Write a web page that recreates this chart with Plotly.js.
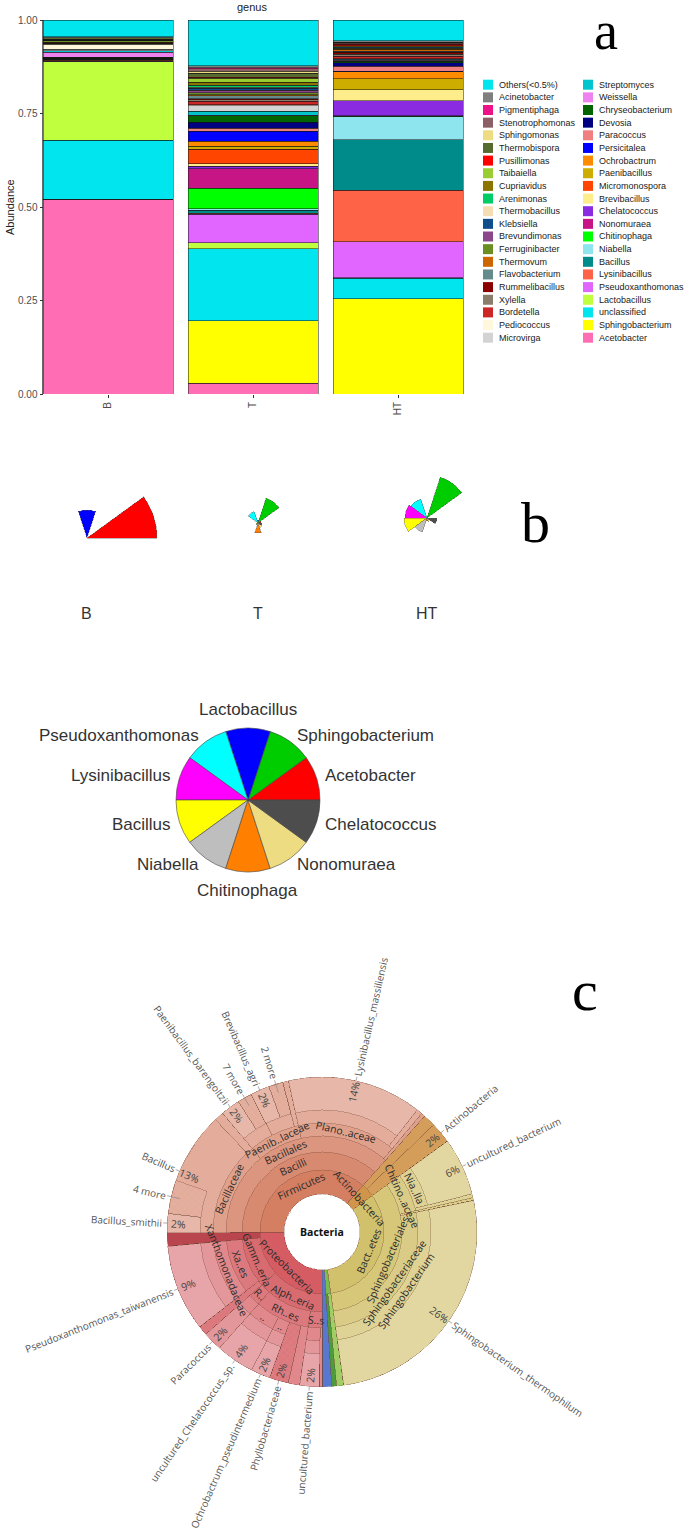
<!DOCTYPE html>
<html><head><meta charset="utf-8">
<script src="https://cdn.plot.ly/plotly-3.0.1.min.js"></script>
<style>html,body{margin:0;padding:0;background:#fff}#chart{width:685px;height:1536px}</style>
</head><body><div id="chart"></div>
<script>
const W = 685, H = 1536;

// ---------------- Panel a : stacked genus abundance ----------------
const samples = ['B', 'T', 'HT'];
const genera = ['Others(<0.5%)','Acinetobacter','Pigmentiphaga','Stenotrophomonas','Sphingomonas','Thermobispora','Pusillimonas','Taibaiella','Cupriavidus','Arenimonas','Thermobacillus','Klebsiella','Brevundimonas','Ferruginibacter','Thermovum','Flavobacterium','Rummelibacillus','Xylella','Bordetella','Pediococcus','Microvirga',
 'Streptomyces','Weissella','Chryseobacterium','Devosia','Paracoccus','Persicitalea','Ochrobactrum','Paenibacillus','Micromonospora','Brevibacillus','Chelatococcus','Nonomuraea','Chitinophaga','Niabella','Bacillus','Lysinibacillus','Pseudoxanthomonas','Lactobacillus','unclassified','Sphingobacterium','Acetobacter'];
const genusColors = ['#00E5EE','#7F7F7F','#EE1289','#8B5F65','#EEDC82','#556B2F','#FF0000','#9ACD32','#8B7500','#00CD66','#F5DEB3','#104E8B','#8B4789','#6B8E23','#CD6600','#668B8B','#8B0000','#8B7D6B','#CD2626','#FFF8DC','#D3D3D3',
 '#00C5CD','#EE82EE','#006400','#000080','#F08080','#0000FF','#FF8C00','#CDAD00','#FF4500','#FFEC8B','#8A2BE2','#C71585','#00FF00','#8EE5EE','#008B8B','#FF6347','#E066FF','#C0FF3E','#00E5EE','#FFFF00','#FF6EB4'];
const abundB  = [0.045,0.002,0.000,0.001,0.000,0.003,0.001,0.001,0.000,0.001,0.000,0.001,0.001,0.004,0.001,0.001,0.001,0.001,0.001,0.013,0.004,
 0.004,0.013,0.002,0.000,0.001,0.000,0.001,0.000,0.001,0.000,0.001,0.000,0.001,0.000,0.002,0.002,0.001,0.210,0.158,0.000,0.521];
const abundT  = [0.122,0.006,0.003,0.006,0.005,0.011,0.003,0.011,0.008,0.005,0.003,0.005,0.006,0.006,0.002,0.008,0.003,0.004,0.010,0.002,0.015,
 0.010,0.002,0.017,0.016,0.009,0.026,0.013,0.008,0.039,0.007,0.007,0.052,0.055,0.004,0.008,0.003,0.076,0.015,0.193,0.167,0.029];
const abundHT = [0.055,0.004,0.000,0.004,0.000,0.002,0.004,0.000,0.003,0.000,0.000,0.002,0.002,0.002,0.005,0.003,0.006,0.005,0.007,0.000,0.001,
 0.003,0.002,0.004,0.010,0.013,0.002,0.018,0.029,0.001,0.029,0.040,0.001,0.002,0.061,0.135,0.138,0.096,0.001,0.055,0.255,0.000];
const abundTicks = [0, 0.25, 0.5, 0.75, 1];
const abundTickText = ['0.00', '0.25', '0.50', '0.75', '1.00'];

// ---------------- Panel b : segment (rose) plots + key pie ----------------
const roseGenera = ['Acetobacter','Sphingobacterium','Lactobacillus','Pseudoxanthomonas','Lysinibacillus','Bacillus','Niabella','Chitinophaga','Nonomuraea','Chelatococcus'];
const roseColors = ['#FF0000','#00CD00','#0000FF','#00FFFF','#FF00FF','#FFFF00','#BEBEBE','#FF7F00','#EEDC82','#4D4D4D'];
const roseSamples = ['B', 'T', 'HT'];
const roseB  = [70, 0, 28, 0, 0, 0, 0, 0, 0, 0];
const roseT  = [3, 26, 3, 12, 1, 2, 2, 10, 5, 4];
const roseHT = [0, 43, 2, 20, 22, 23, 15, 3, 4, 10];
const pieValues = [1, 1, 1, 1, 1, 1, 1, 1, 1, 1];

// ---------------- Panel c : Krona taxonomy (percent of reads) ----------------
const kronaId = ['P','Pa','Pas','Pas0','Pasf','Pasg','Pass','Par','Par0','Parp','Parb','Parbg','Parbs','Parc','Parcg','Parcs','Parh','Parhf','Parhg','Pg','Pg0','Pgx','Pgxf','Pgxg','Pgxs','Pb',
 'F','Fc','Fo','Fba','Fbag','Fbas1','Fbas2','Fba0','Fpa','Fpap','Fpap1','Fpap2','Fpab','Fpab1','Fpab2','Fpa0','Fpl','Fplg','Fpls','Fpl0','Fo0',
 'A','A0','Aa','B','Bc','Bch','Bni','Bnis','Bch0','Bc0','Bsp','Bsg','Bsgs','G','G1','G2','L'];
const kronaLabel = ['Proteobacteria','Alph..eria','S..s','','','','uncultured_bacterium','Rh..es','','Phyllobacteriaceae','..','','Ochrobactrum_pseudintermedium','..','','uncultured_Chelatococcus_sp.','R..','','Paracoccus','Gamm..eria','','Xa..es','Xanthomonadaceae','','Pseudoxanthomonas_taiwanensis','',
 'Firmicutes','Bacilli','Bacillales','Bacillaceae','Bacillus','Bacillus_smithii','4 more','','Paenib..laceae','','Paenibacillus_barengoltzii','7 more','','Brevibacillus_agri','2 more','','Plano..aceae','','Lysinibacillus_massiliensis','','',
 'Actinobacteria','','Actinobacteria','Bact..etes','Sphingobacteriales','Chitino..aceae','Nia..lla','uncultured_bacterium','','','Sphingobacteriaceae','Sphingobacterium','Sphingobacterium_thermophilum','','','',''];
const kronaParent = ['','P','Pa','Pas','Pas','Pasf','Pasg','Pa','Par','Par','Par','Parb','Parbg','Par','Parc','Parcg','Pa','Parh','Parhf','P','Pg','Pg','Pgx','Pgxf','Pgxg','P',
 '','F','Fc','Fo','Fba','Fbag','Fbag','Fba','Fo','Fpa','Fpap','Fpap','Fpa','Fpab','Fpab','Fpa','Fo','Fpl','Fplg','Fpl','Fo',
 '','A','A','','B','Bc','Bch','Bni','Bch','Bc','Bc','Bsp','Bsg','','G','G',''];
const kronaValue = [0,0,0,0.3,0,0,2.0,0,1.2,2.0,0,0,2.0,0,0,4.0,0,0,2.0,0,1.0,0,0,0,9.0,1.4,
 0,0,0,0,7.5,2.0,3.5,1.0,0,0,2.0,1.5,0,2.0,1.5,0.6,0,0,14.0,0.6,0.4,
 0,1.3,2.2,0,0,0,0,6.0,0.4,0.3,0,0,26.0,0,0.75,0.5,1.0];

// ======================================================================
const traces = [];
const ann = [];
const shapes = [];
function addText(text, x, y, opts) {
  ann.push(Object.assign({text: text, x: x / W, y: 1 - y / H, xref: 'paper', yref: 'paper',
    showarrow: false, xanchor: 'center', yanchor: 'middle'}, opts || {}));
}
const SANS = 'Liberation Sans, Arial, sans-serif';

// ---- panel a bars (stack bottom = last legend entry)
for (let i = genera.length - 1; i >= 0; i--) {
  traces.push({type: 'bar', x: samples, y: [abundB[i], abundT[i], abundHT[i]], name: genera[i],
    width: 130 / 145, marker: {color: genusColors[i], line: {color: '#111', width: 0.5}},
    xaxis: 'x', yaxis: 'y', hoverinfo: 'name+y'});
}
// ---- legend drawn as swatches on a pixel overlay axis
const legendRows = 21;
const lgX = [], lgY = [], lgC = [];
genera.forEach((g, i) => {
  const col = Math.floor(i / legendRows), row = i % legendRows;
  lgX.push(488 + col * 100); lgY.push(84.7 + row * 12.65); lgC.push(genusColors[i]);
  addText(g, 497 + col * 100, 84.7 + row * 12.65, {xanchor: 'left', font: {size: 9, color: '#1a1a1a', family: SANS}});
});
traces.push({type: 'scatter', mode: 'markers', x: lgX, y: lgY, xaxis: 'x2', yaxis: 'y2',
  marker: {symbol: 'square', size: 10, color: lgC, line: {width: 0}}, hoverinfo: 'skip'});

// ---- panel b roses
const roseTheta = roseGenera.map((g, i) => 18 + 36 * i);
[roseB, roseT, roseHT].forEach((vals, k) => {
  traces.push({type: 'barpolar', r: vals, theta: roseTheta, width: roseGenera.map(() => 36),
    subplot: k === 0 ? 'polar' : 'polar' + (k + 1), name: roseSamples[k], text: roseGenera,
    marker: {color: roseColors, line: {color: '#555', width: 0.4}}, hoverinfo: 'text+r'});
});
// key pie (labels drawn around it at 1.1 r)
const PCX = 248, PCY = 800, PR = 72;
traces.push({type: 'pie', values: pieValues, labels: roseGenera, sort: false, direction: 'counterclockwise',
  rotation: 54, textinfo: 'none', marker: {colors: roseColors, line: {color: '#444', width: 0.6}},
  domain: {x: [(PCX - PR) / W, (PCX + PR) / W], y: [1 - (PCY + PR) / H, 1 - (PCY - PR) / H]}, hoverinfo: 'label', showlegend: false});
{
  const tot = pieValues.reduce((a, b) => a + b, 0);
  let cum = 0;
  roseGenera.forEach((g, i) => {
    const mid = (cum + pieValues[i] / 2) / tot * 2 * Math.PI; cum += pieValues[i];
    const cx = Math.cos(mid), sy = Math.sin(mid);
    const x = PCX + 1.1 * PR * cx, y = PCY - 1.1 * PR * sy;
    const o = {font: {size: 17, color: '#333', family: SANS}};
    if (Math.abs(cx) < 0.2) { o.xanchor = 'center'; o.yanchor = sy > 0 ? 'bottom' : 'top'; }
    else { o.xanchor = cx > 0 ? 'left' : 'right'; o.yanchor = 'middle'; }
    addText(g, x, y, o);
  });
}

// ---- panel c Krona
const KX = 322, KY = 1232, ROUT = 155;
const RIN = [0, 38, 62, 80, 96, 109, 122];
const N = kronaId.length;
const kids = {};
kronaParent.forEach((p, i) => { (kids[p] = kids[p] || []).push(i); });
const total = new Array(N).fill(0), depth = new Array(N).fill(0), startA = new Array(N).fill(0);
function sumNode(i) { let s = kronaValue[i]; (kids[kronaId[i]] || []).forEach(c => { s += sumNode(c); }); total[i] = s; return s; }
let grand = 0; kids[''].forEach(r => { grand += sumNode(r); });
function place(i, d, a0) { depth[i] = d; startA[i] = a0; let a = a0; (kids[kronaId[i]] || []).forEach(c => { place(c, d + 1, a); a += total[c] * 360 / grand; }); }
{ let a = 0; kids[''].forEach(r => { place(r, 1, a); a += total[r] * 360 / grand; }); }
const phylumBase = {P: [212, 92, 98], F: [212, 126, 98], A: [208, 148, 74], B: [210, 193, 108], G: [125, 187, 78], L: [88, 120, 207]};
const overrides = {Pb: [185, 70, 78], G1: [160, 205, 100], G2: [78, 155, 60]};
function topOf(i) { let id = kronaId[i]; while (kronaParent[kronaId.indexOf(id)] !== '') id = kronaParent[kronaId.indexOf(id)]; return id; }
function colorFor(i) {
  const c = overrides[kronaId[i]] || phylumBase[topOf(i)];
  const t = overrides[kronaId[i]] ? 0 : 0.09 * (depth[i] - 1);
  return 'rgb(' + c.map(v => Math.round(v + (255 - v) * t)).join(',') + ')';
}
const hatched = ['4 more', '7 more', '2 more', 'Phyllobacteriaceae'];
const ord = [...Array(N).keys()].sort((a, b) => depth[a] - depth[b] || a - b);
const kT = [], kW = [], kBase = [], kR = [], kC = [], kP = [], kTxt = [];
ord.forEach(i => {
  const span = total[i] * 360 / grand;
  kT.push(startA[i] + span / 2); kW.push(span); kBase.push(RIN[depth[i]]); kR.push(ROUT - RIN[depth[i]]);
  kC.push(colorFor(i)); kP.push(hatched.includes(kronaLabel[i]) ? 'x' : ''); kTxt.push(kronaLabel[i] || kronaId[i]);
});
traces.push({type: 'barpolar', subplot: 'polar4', theta: kT, width: kW, base: kBase, r: kR, text: kTxt,
  marker: {color: kC, line: {color: 'rgba(110,70,55,0.45)', width: 0.7},
    pattern: {shape: kP, fgcolor: 'rgba(150,95,85,0.55)', size: 5, solidity: 0.15}}, hoverinfo: 'text'});

const KF = 'Open Sans, Noto Sans, sans-serif';
const ctx = document.createElement('canvas').getContext('2d');
function textW(s, size) { ctx.font = size + "px 'Open Sans'"; return ctx.measureText(s).width; }
function pt(thetaCW, r) { const tm = (270 - thetaCW) * Math.PI / 180; return [KX + r * Math.cos(tm), KY - r * Math.sin(tm)]; }
function n180(a) { return ((a % 360) + 540) % 360 - 180; }
function radialAng(tm) { return Math.cos(tm * Math.PI / 180) >= 0 ? n180(-tm) : n180(180 - tm); }
function tangAng(tm) { let a = n180(90 - tm); if (a > 90) a -= 180; if (a <= -90) a += 180; return a; }
const OUT_FS = 10;
for (let i = 0; i < N; i++) {
  const lab = kronaLabel[i]; if (!lab) continue;
  const span = total[i] * 360 / grand, c = startA[i] + span / 2, tm = 270 - c, d = depth[i];
  const hasKids = !!kids[kronaId[i]];
  if (kronaValue[i] > 0 && total[i] >= 1.5) {
    const more = / more$/.test(lab);
    const w = textW(lab, OUT_FS);
    const p = pt(c, 160 + w / 2);
    addText(lab, p[0], p[1], {textangle: radialAng(tm), borderpad: 0, font: {size: OUT_FS, color: '#555', family: KF}});
    const a0 = pt(c, more ? 146 : 155), a1 = pt(c, 159);
    shapes.push({type: 'line', xref: 'paper', yref: 'paper', x0: a0[0] / W, y0: 1 - a0[1] / H, x1: a1[0] / W, y1: 1 - a1[1] / H, line: {color: '#888', width: 0.7}});
    if (!more) {
      const q = pt(c, 144);
      addText(Math.round(total[i] / grand * 100) + '%', q[0], q[1], {textangle: radialAng(tm), font: {size: 10.5, color: '#444', family: KF}});
    }
  } else if (hasKids) {
    const q = pt(c, (RIN[d] + RIN[d + 1]) / 2);
    addText(lab, q[0], q[1], {textangle: tangAng(tm), font: {size: 10.5, color: '#2b2b2b', family: KF}});
  }
}
addText('<b>Bacteria</b>', KX, KY, {font: {size: 10.5, color: '#111', family: KF}});

// ---- other texts
addText('Abundance', 10, 207, {textangle: -90, font: {size: 11, color: '#222', family: SANS}});
const SERIF = 'Liberation Serif, Times New Roman, serif';
addText('a', 606, 31, {font: {size: 54, color: '#000', family: SERIF}});
addText('b', 535, 522, {font: {size: 58, color: '#000', family: SERIF}});
addText('c', 585, 990, {font: {size: 58, color: '#000', family: SERIF}});
const roseLabX = [87, 258, 427];
roseSamples.forEach((s, k) => addText(s, roseLabX[k], 613, {font: {size: 16, color: '#333', family: SANS}}));

function polarDom(cx, cy, h) { return {x: [(cx - h) / W, (cx + h) / W], y: [1 - (cy + h) / H, 1 - (cy - h) / H]}; }
function polarLayout(cx, cy, h, rmax, extra) {
  return Object.assign({domain: polarDom(cx, cy, h), bgcolor: 'rgba(0,0,0,0)', barmode: 'overlay', bargap: 0,
    radialaxis: {visible: false, range: [0, rmax]}, angularaxis: {visible: false}}, extra || {});
}

const layout = {
  width: W, height: H, margin: {l: 0, r: 0, t: 0, b: 0}, paper_bgcolor: '#fff', plot_bgcolor: 'rgba(0,0,0,0)',
  showlegend: false, barmode: 'stack', font: {family: SANS},
  title: {text: 'genus', x: 252 / W, xanchor: 'center', y: 1 - 7 / H, yanchor: 'middle', font: {size: 11, color: '#222'}},
  xaxis: {domain: [35.5 / W, 470.5 / W], range: [-0.5, 2.5], type: 'category', tickangle: -90, ticks: 'outside', ticklen: 3,
    tickcolor: '#333', tickfont: {size: 10, color: '#4d4d4d'}, showgrid: false, zeroline: false, showline: false, fixedrange: true, anchor: 'y'},
  yaxis: {domain: [1 - 394 / H, 1 - 20 / H], range: [0, 1], tickvals: abundTicks, ticktext: abundTickText, ticks: 'outside', ticklen: 3,
    tickcolor: '#333', tickfont: {size: 10, color: '#4d4d4d'}, showgrid: false, zeroline: false, showline: true, linecolor: '#444',
    linewidth: 0.8, anchor: 'free', position: 42.5 / W, fixedrange: true},
  xaxis2: {domain: [0, 1], range: [0, W], visible: false, fixedrange: true, anchor: 'y2'},
  yaxis2: {domain: [0, 1], range: [H, 0], visible: false, fixedrange: true, anchor: 'x2'},
  polar: polarLayout(87, 538, 80, 80),
  polar2: polarLayout(258, 523, 80, 80),
  polar3: polarLayout(427, 518, 80, 80),
  polar4: polarLayout(KX, KY, ROUT, ROUT, {angularaxis: {visible: false, rotation: 270, direction: 'clockwise'}}),
  annotations: ann, shapes: shapes
};
Plotly.newPlot('chart', traces, layout, {staticPlot: true, displayModeBar: false});
</script></body></html>
